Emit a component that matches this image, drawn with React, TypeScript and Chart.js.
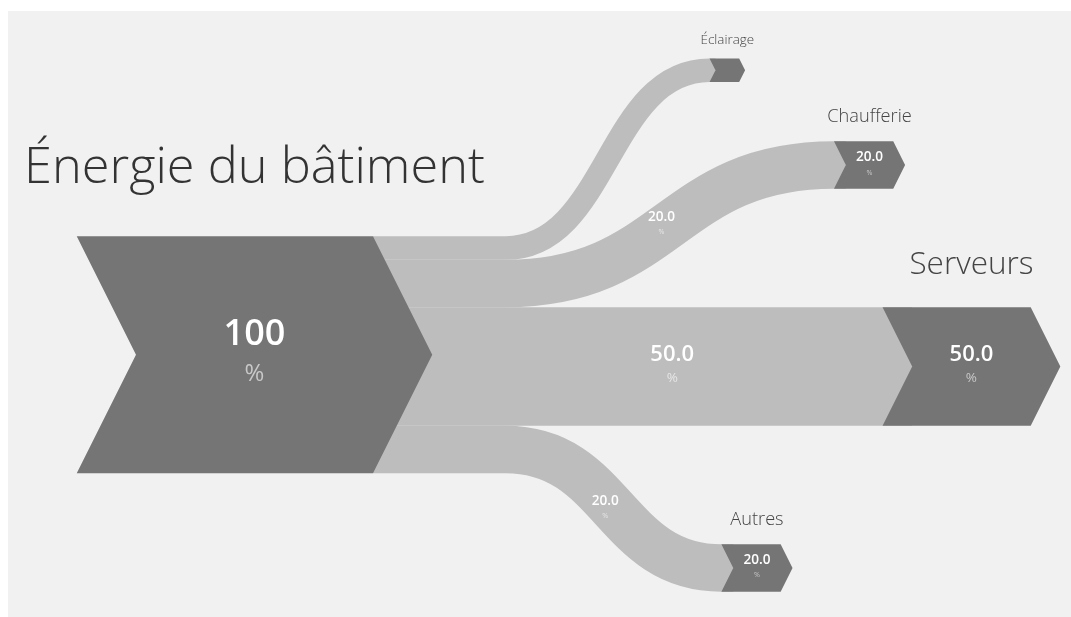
import React, { useEffect, useRef } from 'react';
import { Chart, registerables } from 'chart.js';

Chart.register(...registerables);

// ---- data ----
const SOURCE_NAME = 'Énergie du bâtiment';
const TARGET_NAMES = ['Éclairage', 'Chaufferie', 'Serveurs', 'Autres'];
const FLOW_VALUES = [10, 20, 50, 20];
const UNIT_LABEL = '%';

// ---- layout (scale units: 1 unit = 1 %) ----
const SOURCE_X = 29;
const SOURCE_TOP = 95;
const TARGET_X = [296, 348.5, 369, 301];
const TARGET_TOP = [20, 55, 125, 225];
const CURVE_START_X = 210;
const X_MAX = 448.5;
const Y_MAX = 255.7;
const MIN_VALUE_LABEL = 15;

// ---- style ----
const BG = '#f1f1f1';
const NODE_COLOR = '#757575';
const FLOW_COLOR = '#bdbdbd';
const FONT = "'Open Sans', 'Noto Sans', sans-serif";

const labelFont = (v: number) => 8.5 + 0.5 * v - 0.0008 * v * v;
const valueFont = (v: number) => 8 + 0.28 * v;
const pctFont = (v: number) => Math.max(6, 0.75 * valueFont(v) - 3);

const sankeyPlugin = {
  id: 'sankeyDraw',
  afterDatasetsDraw(chart: any) {
    const { ctx } = chart;
    const xs = chart.scales.x;
    const ys = chart.scales.y;
    const px = (v: number) => xs.getPixelForValue(v);
    const py = (v: number) => ys.getPixelForValue(v);
    const total = FLOW_VALUES.reduce((a, b) => a + b, 0);

    ctx.save();

    // flows
    let stack = SOURCE_TOP;
    const flowMid: { x: number; y: number; v: number }[] = [];
    FLOW_VALUES.forEach((v, i) => {
      const y0 = stack + v / 2;
      stack += v;
      const y1 = TARGET_TOP[i] + v / 2;
      const sx = px(SOURCE_X + 1.25 * total);
      const x0 = px(CURVE_START_X);
      const x1 = px(TARGET_X[i]);
      const xe = px(TARGET_X[i] + 0.25 * v);
      const straight = Math.abs(y0 - y1) < 1e-6;
      ctx.beginPath();
      ctx.lineWidth = Math.abs(py(v) - py(0));
      ctx.lineCap = 'butt';
      ctx.strokeStyle = FLOW_COLOR;
      ctx.moveTo(sx, py(y0));
      if (straight) {
        ctx.lineTo(xe, py(y1));
      } else {
        ctx.lineTo(x0, py(y0));
        const xm = (x0 + x1) / 2;
        ctx.bezierCurveTo(xm, py(y0), xm, py(y1), x1, py(y1));
        ctx.lineTo(xe, py(y1));
      }
      ctx.stroke();
      const lx = straight
        ? (SOURCE_X + 1.5 * total + TARGET_X[i] + 0.25 * v) / 2
        : (CURVE_START_X - 7 + TARGET_X[i]) / 2;
      flowMid.push({ x: lx, y: (y0 + y1) / 2, v });
    });

    const chevron = (x: number, top: number, v: number) => {
      const w = 1.25 * v;
      const d = 0.25 * v;
      ctx.beginPath();
      ctx.moveTo(px(x), py(top));
      ctx.lineTo(px(x + w), py(top));
      ctx.lineTo(px(x + w + d), py(top + v / 2));
      ctx.lineTo(px(x + w), py(top + v));
      ctx.lineTo(px(x), py(top + v));
      ctx.lineTo(px(x + d), py(top + v / 2));
      ctx.closePath();
      ctx.fillStyle = NODE_COLOR;
      ctx.fill();
    };

    const valueText = (cx: number, cy: number, v: number, txt: string, pctColor: string) => {
      const vf = valueFont(v);
      ctx.textAlign = 'center';
      ctx.textBaseline = 'middle';
      ctx.fillStyle = '#ffffff';
      ctx.font = `600 ${vf}px ${FONT}`;
      ctx.fillText(txt, cx, cy - 0.55 * vf);
      ctx.fillStyle = pctColor;
      ctx.font = `400 ${pctFont(v)}px ${FONT}`;
      ctx.fillText(UNIT_LABEL, cx, cy + 0.55 * vf);
    };

    const nodeLabel = (cx: number, top: number, v: number, name: string, color: string) => {
      const lf = labelFont(v);
      ctx.textAlign = 'center';
      ctx.textBaseline = 'alphabetic';
      ctx.fillStyle = color;
      ctx.font = `300 ${lf}px ${FONT}`;
      ctx.fillText(name, cx, py(top) - 1.05 * lf);
    };

    // nodes
    chevron(SOURCE_X, SOURCE_TOP, total);
    FLOW_VALUES.forEach((v, i) => chevron(TARGET_X[i], TARGET_TOP[i], v));

    // flow labels
    flowMid.forEach((f) => {
      if (f.v < MIN_VALUE_LABEL) return;
      valueText(px(f.x), py(f.y), f.v, f.v.toFixed(1), '#e6e6e6');
    });

    // node texts
    valueText(px(SOURCE_X + 0.75 * total), py(SOURCE_TOP + total / 2), total, String(total), '#c8c8c8');
    nodeLabel(px(SOURCE_X + 0.75 * total), SOURCE_TOP, total, SOURCE_NAME, '#333333');
    FLOW_VALUES.forEach((v, i) => {
      const cx = px(TARGET_X[i] + 0.75 * v);
      if (v >= MIN_VALUE_LABEL) {
        valueText(cx, py(TARGET_TOP[i] + v / 2), v, v.toFixed(1), '#c8c8c8');
      }
      nodeLabel(cx, TARGET_TOP[i], v, TARGET_NAMES[i], '#444444');
    });

    ctx.restore();
  },
};

export default function App() {
  const canvasRef = useRef<HTMLCanvasElement | null>(null);

  useEffect(() => {
    if (!canvasRef.current) return;
    const total = FLOW_VALUES.reduce((a, b) => a + b, 0);
    const points = [
      { x: SOURCE_X + 0.75 * total, y: SOURCE_TOP + total / 2 },
      ...FLOW_VALUES.map((v, i) => ({ x: TARGET_X[i] + 0.75 * v, y: TARGET_TOP[i] + v / 2 })),
    ];
    const chart = new Chart(canvasRef.current, {
      type: 'scatter',
      data: {
        datasets: [
          {
            label: 'nodes',
            data: points,
            pointRadius: 0,
            pointHoverRadius: 0,
          },
        ],
      },
      options: {
        animation: false,
        responsive: true,
        maintainAspectRatio: false,
        layout: { padding: 0 },
        scales: {
          x: { type: 'linear', min: 0, max: X_MAX, display: false },
          y: { type: 'linear', min: 0, max: Y_MAX, reverse: true, display: false },
        },
        plugins: {
          legend: { display: false },
          tooltip: { enabled: false },
          title: { display: false },
        },
        events: [],
      },
      plugins: [sankeyPlugin],
    });
    return () => chart.destroy();
  }, []);

  return (
    <div
      style={{
        position: 'fixed',
        left: 8,
        top: 11,
        width: 1063,
        height: 606,
        background: BG,
      }}
    >
      <canvas ref={canvasRef} />
    </div>
  );
}
